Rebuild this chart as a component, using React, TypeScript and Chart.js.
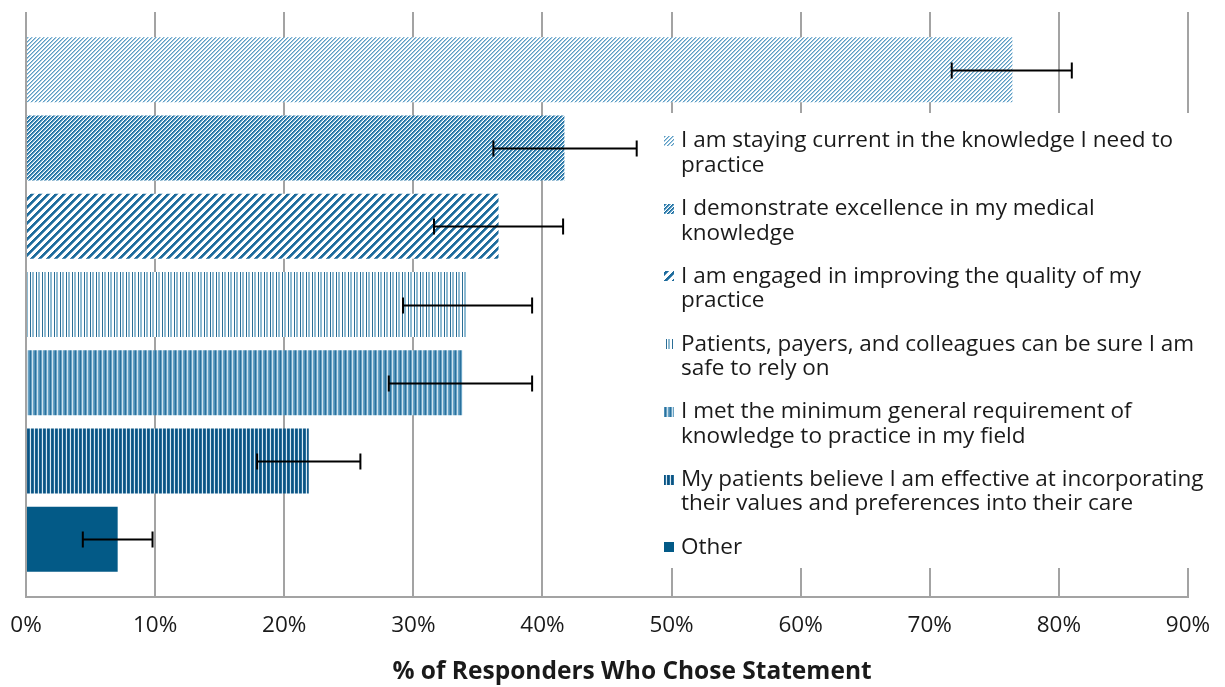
import React, { useEffect, useRef } from "react";
import { Chart, registerables } from "chart.js";

Chart.register(...registerables);

const statements: string[][] = [
  ["I am staying current in the knowledge I need to", "practice"],
  ["I demonstrate excellence in my medical", "knowledge"],
  ["I am engaged in improving the quality of my", "practice"],
  ["Patients, payers, and colleagues can be sure I am", "safe to rely on"],
  ["I met the minimum general requirement of", "knowledge to practice in my field"],
  ["My patients believe I am effective at incorporating", "their values and preferences into their care"],
  ["Other"],
];

const percentValues: number[] = [76.4, 41.7, 36.6, 34.2, 33.8, 21.9, 7.1];
const errorLow: number[] = [71.7, 36.2, 31.6, 29.2, 28.1, 17.9, 4.4];
const errorHigh: number[] = [81.0, 47.3, 41.6, 39.2, 39.2, 25.9, 9.8];

const xTickValues: number[] = [0, 10, 20, 30, 40, 50, 60, 70, 80, 90];
const axisTitle = "% of Responders Who Chose Statement";

const FONT = "'Open Sans', Lato, sans-serif";
const TEXT = "#1a1a1a";
const GRID = "#a3a3a3";

type Tile = (x: number, y: number) => string | null;

function makePattern(size: number, fn: Tile, w?: number, h?: number): CanvasPattern | string {
  const c = document.createElement("canvas");
  const tw = w ?? size;
  const th = h ?? size;
  c.width = tw;
  c.height = th;
  const ctx = c.getContext("2d")!;
  ctx.fillStyle = "#ffffff";
  ctx.fillRect(0, 0, tw, th);
  for (let y = 0; y < th; y++) {
    for (let x = 0; x < tw; x++) {
      const col = fn(x, y);
      if (col) {
        ctx.fillStyle = col;
        ctx.fillRect(x, y, 1, 1);
      }
    }
  }
  const p = ctx.createPattern(c, "repeat");
  return p ?? "#4a8db7";
}

function buildPatterns(): (CanvasPattern | string)[] {
  return [
    // light fine diagonal
    makePattern(4, (x, y) => {
      const k = (x + y) % 4;
      if (k === 0) return "#5b9cc4";
      if (k === 1) return "#a3c9df";
      return null;
    }),
    // darker dense diagonal
    makePattern(4, (x, y) => {
      const k = (x + y) % 4;
      if (k === 0) return "#1c6a9b";
      if (k === 1) return "#3c87b5";
      if (k === 2) return "#8cbcd8";
      return null;
    }),
    // wide diagonal stripes
    makePattern(8, (x, y) => {
      const k = (x + y) % 8;
      if (k < 3) return "#1f6c9c";
      if (k === 3) return "#5d98bf";
      return null;
    }),
    // vertical thin stripes on white
    makePattern(6, (x) => {
      const k = x % 6;
      if (k === 0) return "#2b6e96";
      if (k === 2 || k === 3) return "#8fbbd2";
      return null;
    }, 6, 1),
    // denser vertical stripes, medium blue
    makePattern(5, (x) => {
      const k = x % 5;
      if (k === 0) return "#2a719d";
      if (k === 1) return "#6aa3c4";
      if (k === 2) return "#cfe2ee";
      if (k === 3) return "#6aa3c4";
      return "#4f90b8";
    }, 5, 1),
    // dark vertical stripes
    makePattern(4, (x) => {
      const k = x % 4;
      if (k === 0) return "#0c5280";
      if (k === 1) return "#26709e";
      if (k === 2) return "#dbe9f2";
      return "#165d8b";
    }, 4, 1),
    "#035a87",
  ];
}

export default function App() {
  const canvasRef = useRef<HTMLCanvasElement | null>(null);

  useEffect(() => {
    if (!canvasRef.current) return;
    const patterns = buildPatterns();

    const errorBars = {
      id: "errorBars",
      afterDatasetsDraw(chart: any) {
        const ctx = chart.ctx;
        const xs = chart.scales.x;
        ctx.save();
        ctx.strokeStyle = "#000000";
        ctx.lineWidth = 2;
        chart.data.datasets.forEach((_: any, i: number) => {
          const meta = chart.getDatasetMeta(i);
          const bar = meta.data[0];
          if (!bar) return;
          const y = Math.round(bar.y) + 0.5;
          const x1 = xs.getPixelForValue(errorLow[i]);
          const x2 = xs.getPixelForValue(errorHigh[i]);
          ctx.beginPath();
          ctx.moveTo(x1, y);
          ctx.lineTo(x2, y);
          ctx.moveTo(x1, y - 8);
          ctx.lineTo(x1, y + 8);
          ctx.moveTo(x2, y - 8);
          ctx.lineTo(x2, y + 8);
          ctx.stroke();
        });
        ctx.restore();
      },
    };

    const customLegend = {
      id: "customLegend",
      afterDraw(chart: any) {
        const ctx = chart.ctx;
        ctx.save();
        ctx.fillStyle = "#ffffff";
        ctx.fillRect(655, 113, 565, 455);
        ctx.font = `22.5px ${FONT}`;
        ctx.textBaseline = "middle";
        ctx.textAlign = "left";
        const startY = 141;
        const step = 67.7;
        statements.forEach((lines, i) => {
          const y0 = startY + step * i;
          ctx.fillStyle = patterns[i] as any;
          ctx.fillRect(664, Math.round(y0 - 5), 10, 10);
          ctx.fillStyle = TEXT;
          lines.forEach((ln, j) => {
            ctx.fillText(ln, 681, y0 + j * 24.5);
          });
        });
        // axis title
        ctx.font = `bold 24.5px ${FONT}`;
        ctx.textAlign = "center";
        ctx.fillStyle = TEXT;
        ctx.fillText(axisTitle, 632, 672);
        ctx.restore();
      },
    };

    const chart = new Chart(canvasRef.current, {
      type: "bar",
      data: {
        labels: [""],
        datasets: statements.map((lines, i) => ({
          label: lines.join(" "),
          data: [percentValues[i]],
          backgroundColor: patterns[i] as any,
          borderWidth: 0,
          categoryPercentage: 0.936,
          barPercentage: 0.83,
        })),
      },
      options: {
        indexAxis: "y",
        animation: false,
        responsive: true,
        maintainAspectRatio: false,
        layout: { padding: { left: 26, right: 37, top: 12, bottom: 0 } },
        plugins: {
          legend: { display: false },
          tooltip: { enabled: false },
        },
        scales: {
          y: { display: false },
          x: {
            min: 0,
            max: 90,
            afterBuildTicks(scale: any) {
              scale.ticks = xTickValues.map((v) => ({ value: v }));
            },
            afterFit(scale: any) {
              scale.height = 90;
              scale.paddingLeft = 0;
              scale.paddingRight = 0;
            },
            grid: { color: GRID, lineWidth: 2, drawTicks: false },
            border: { display: true, color: GRID, width: 2 },
            ticks: {
              padding: 15,
              color: TEXT,
              font: { family: FONT, size: 22.5 },
              callback: (v: any) => `${v}%`,
              maxRotation: 0,
            },
            title: { display: false },
          },
        },
      },
      plugins: [errorBars, customLegend],
    });

    return () => chart.destroy();
  }, []);

  return (
    <div style={{ position: "fixed", left: 0, top: 0, width: 1225, height: 687, background: "#ffffff" }}>
      <canvas ref={canvasRef} />
    </div>
  );
}
